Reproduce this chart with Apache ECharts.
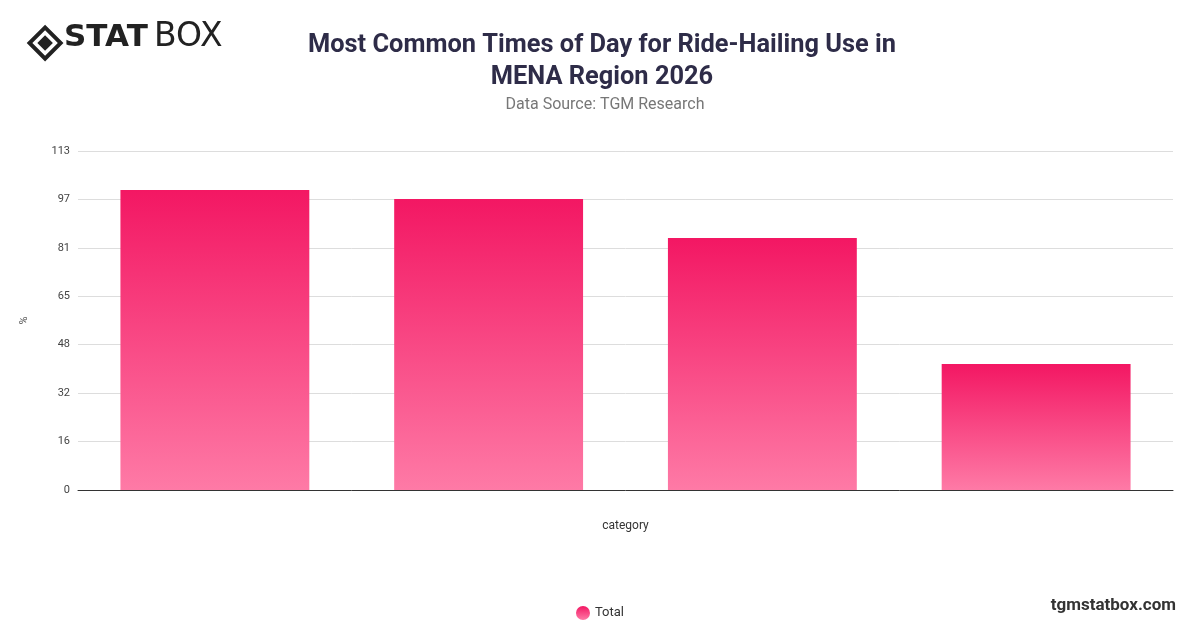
<!DOCTYPE html><html><head><meta charset="utf-8"><script src="https://cdn.jsdelivr.net/npm/echarts@6/dist/echarts.min.js"></script>
<style>html,body{margin:0;padding:0;background:#fff}#c{width:1200px;height:628px}</style></head><body><div id="c"></div><script>
const categories = ['Morning commute', 'Evening commute', 'Late night', 'Midday'];
const totalValues = [100, 97, 84, 42];
const tickLabels = ['0','16','32','48','65','81','97','113'];
const chart = echarts.init(document.getElementById('c'));
const grad = new echarts.graphic.LinearGradient(0,0,0,1,[{offset:0,color:'#f31763'},{offset:1,color:'#fe7aa6'}]);
chart.setOption({
  animation:false,
  title:[{text:'Most Common Times of Day for Ride-Hailing Use in\nMENA Region 2026',left:597,top:25,textAlign:'center',textStyle:{fontFamily:'Roboto',fontSize:25.4,fontWeight:'bold',color:'#2e2c48',lineHeight:32}},
    {text:'Data Source: TGM Research',left:600,top:92,textAlign:'center',textStyle:{fontFamily:'Roboto',fontSize:16,fontWeight:'normal',color:'#777'}}],
  graphic:[
    {type:'group',left:26,top:24,children:[
      {type:'rect',shape:{x:-11,y:-11,width:22,height:22},rotation:Math.PI/4,position:[16,16],style:{fill:'none',stroke:'#222',lineWidth:4}},
      {type:'rect',shape:{x:-5.5,y:-5.5,width:11,height:11},rotation:Math.PI/4,position:[16,16],style:{fill:'#222'}}
    ]},
    {type:'text',left:64,top:22,style:{text:'STAT',font:'900 31px "DejaVu Sans"',fill:'#222'}},
    {type:'text',left:154,top:21,style:{text:'BOX',font:'normal 33px "DejaVu Sans"',fill:'#222'}},
    {type:'text',right:24,top:597,style:{text:'tgmstatbox.com',font:'bold 17px Roboto',fill:'#333'}}
  ],
  legend:{bottom:3,left:'center',icon:'circle',itemWidth:14,itemHeight:14,textStyle:{fontFamily:'Roboto',fontSize:13,color:'#333'},data:['Total']},
  grid:{left:78,right:27,top:151,bottom:138},
  xAxis:{type:'category',data:categories,name:'category',nameLocation:'middle',nameGap:30,nameTextStyle:{fontFamily:'Roboto',fontSize:12,color:'#333'},
    axisLabel:{show:false},axisTick:{show:false},axisLine:{lineStyle:{color:'#333'}}},
  yAxis:{type:'value',min:0,max:113,interval:113/7,name:'%',nameLocation:'middle',nameGap:48,nameTextStyle:{fontFamily:'Roboto',fontSize:11,color:'#555'},
    axisLabel:{fontFamily:'Roboto',fontSize:11,color:'#444',formatter:(v)=>tickLabels[Math.round(v/(113/7))]},
    splitLine:{lineStyle:{color:'#ddd'}}},
  series:[{name:'Total',type:'bar',data:totalValues,barWidth:'69%',itemStyle:{color:grad}}]
});
</script></body></html>
